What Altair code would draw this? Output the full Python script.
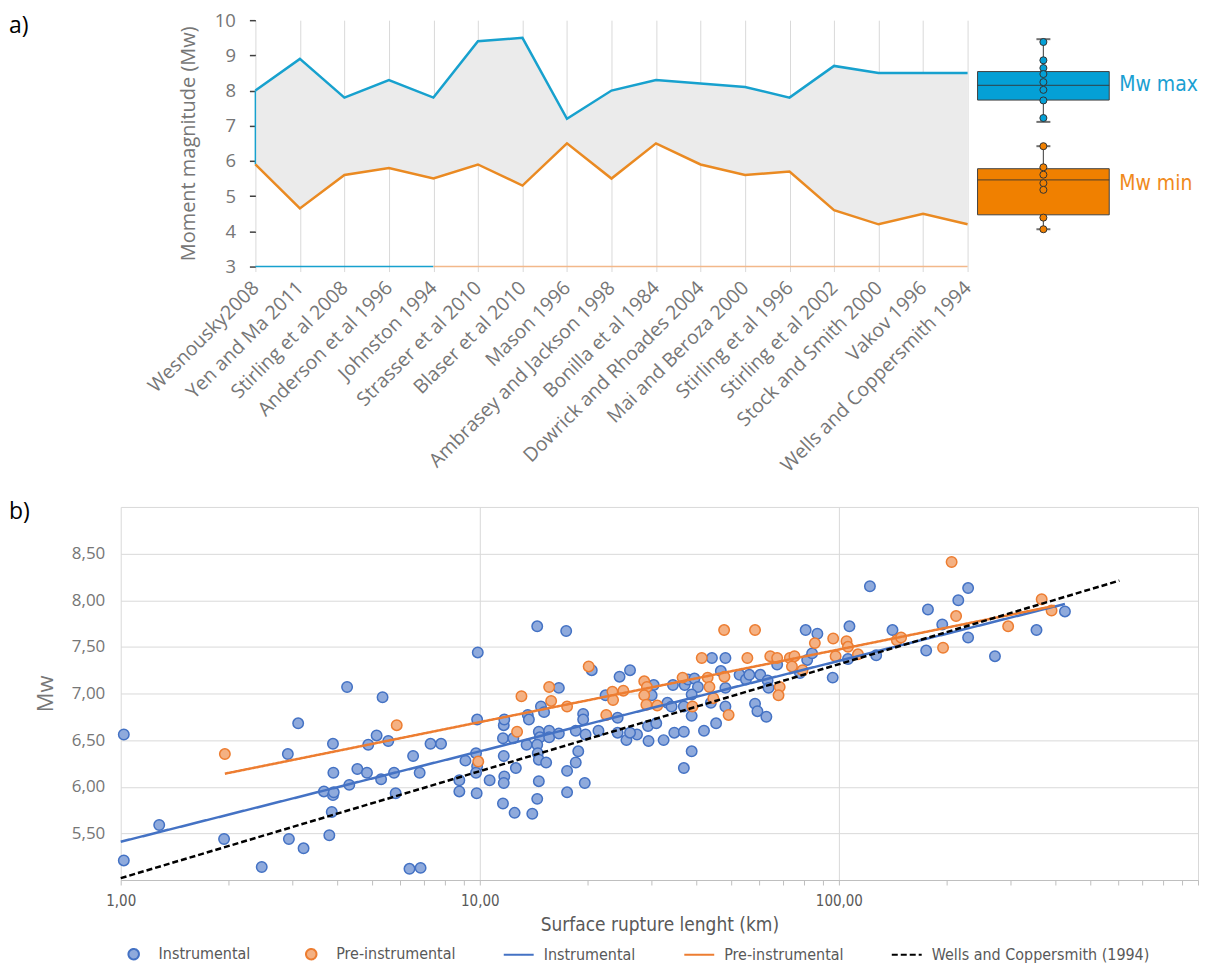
import altair as alt
import pandas as pd

# ---------------- panel a) data ----------------
studies = ["Wesnousky2008", "Yen and Ma 2011", "Stirling et al 2008", "Anderson et al 1996",
           "Johnston 1994", "Strasser et al 2010", "Blaser et al 2010", "Mason 1996",
           "Ambrasey and Jackson 1998", "Bonilla et al 1984", "Dowrick and Rhoades 2004",
           "Mai and Beroza 2000", "Stirling et al 1996", "Stirling et al 2002",
           "Stock and Smith 2000", "Vakov 1996", "Wells and Coppersmith 1994"]
mw_max = [8.0, 8.9, 7.8, 8.3, 7.8, 9.4, 9.5, 7.2, 8.0, 8.3, 8.2, 8.1, 7.8, 8.7, 8.5, 8.5, 8.5]
mw_min = [5.9, 4.65, 5.6, 5.8, 5.5, 5.9, 5.3, 6.5, 5.5, 6.5, 5.9, 5.6, 5.7, 4.6, 4.2, 4.5, 4.2]

# baseline segments drawn at Mw = 3
base_study = ["Wesnousky2008", "Johnston 1994", "Johnston 1994", "Wells and Coppersmith 1994"]
base_mw = [3, 3, 3, 3]
base_seg = ["max", "max", "min", "min"]

# box plot summaries
box_names = ["Mw max", "Mw min"]
box_q1 = [7.73, 4.47]
box_median = [8.15, 5.46]
box_q3 = [8.54, 5.78]
box_low = [7.11, 4.06]
box_high = [9.46, 6.42]
box_pts_max = [9.38, 8.86, 8.64, 8.47, 8.24, 8.02, 7.72, 7.22]
box_pts_min = [6.42, 5.82, 5.61, 5.37, 5.18, 4.39, 4.06]

# ---------------- panel b) data ----------------
inst_L = [1.02, 1.02, 1.28, 1.94, 2.47, 2.94, 2.92, 3.12, 3.23, 3.68, 3.9, 3.9, 3.92, 3.91, 3.87, 3.81,
          4.27, 4.33, 4.56, 4.85, 4.89, 5.16, 5.36, 5.31, 5.56, 5.77, 5.83, 6.37, 6.84, 6.52, 6.8, 7.29,
          7.8, 8.77, 8.77, 9.12, 9.87, 9.83, 9.76, 9.83, 9.76, 9.8, 10.65,
          11.66, 11.7, 11.6, 11.66, 11.7, 11.66, 11.6, 12.5, 12.6, 12.4, 13.6, 13.7, 13.5, 14.0, 14.45,
          14.8, 15.1, 14.6, 15.6, 14.7, 15.6, 14.45, 14.5, 14.6, 15.3, 14.6, 14.45, 16.6, 16.6, 17.4,
          17.5, 17.5, 18.5, 18.5, 18.8, 19.4, 19.4, 19.7, 19.6,
          20.5, 21.4, 22.4, 24.5, 26.2, 24.2, 24.2, 25.6, 27.4, 26.2, 29.4, 29.5, 30.5, 30.1, 31.0,
          32.5, 33.3, 34.5, 34.8, 34.2, 37.2, 38.0, 39.6, 40.5, 38.9, 37.0, 38.9, 38.9, 37.0, 42.1,
          44.0, 44.3, 45.5, 46.9, 48.3, 48.3, 48.3, 52.9, 55.1, 56.3, 58.4, 59.3, 60.4, 62.8, 63.3,
          63.7, 67.3, 77.9, 81.6, 84.2, 37.0,
          80.8, 87.1, 96.1, 107, 106, 122, 127, 141, 175, 177, 194, 215, 229, 229, 272, 355, 426]
inst_Mw = [6.56, 5.21, 5.59, 5.44, 5.14, 5.44, 6.35, 6.68, 5.34, 5.95, 6.46, 5.91, 5.94, 6.15, 5.73, 5.48,
           7.07, 6.02, 6.19, 6.15, 6.45, 6.55, 6.96, 6.08, 6.49, 6.15, 5.93, 5.12, 5.13, 6.33, 6.15, 6.46,
           6.46, 6.07, 5.95, 6.28, 7.44, 6.72, 6.36, 6.22, 6.15, 5.93, 6.07,
           6.66, 6.72, 6.52, 6.33, 6.11, 6.04, 5.82, 5.72, 6.2, 6.52, 6.77, 6.72, 6.45, 5.71, 7.72,
           6.86, 6.8, 6.59, 6.6, 6.53, 6.53, 6.45, 6.36, 6.29, 6.26, 6.06, 5.87, 7.06, 6.57, 7.67,
           6.17, 5.94, 6.6, 6.26, 6.38, 6.78, 6.72, 6.56, 6.04,
           7.25, 6.6, 6.98, 7.18, 7.25, 6.74, 6.58, 6.5, 6.56, 6.58, 6.65, 6.49, 7.09, 6.98, 6.68,
           6.5, 6.9, 7.09, 6.58, 6.86, 7.09, 7.15, 7.16, 7.07, 6.99, 6.59, 6.76, 6.38, 6.86, 6.6,
           6.9, 7.38, 6.68, 7.24, 7.38, 7.06, 6.86, 7.2, 7.15, 7.2, 6.89, 6.81, 7.2, 6.75, 7.14,
           7.06, 7.31, 7.22, 7.36, 7.43, 6.2,
           7.68, 7.64, 7.17, 7.72, 7.37, 8.15, 7.41, 7.68, 7.46, 7.9, 7.74, 8.0, 8.13, 7.6, 7.4, 7.68, 7.88]
pre_L = [1.95, 5.87, 9.9, 13.06, 12.7, 15.6, 15.8, 17.5, 20.1, 23.4, 23.5, 25.1, 22.5, 28.7, 29.2, 28.7,
         29.1, 31.2, 36.7, 41.5, 43.1, 43.6, 44.7, 39.1, 49.3, 48.0, 47.9, 55.6, 58.4, 64.4, 67.3, 68.4,
         67.9, 73.0, 75.2, 74.0, 79.2, 85.7, 96.4, 97.9, 105, 106, 113, 145, 149, 195, 206, 212, 296,
         367, 391]
pre_Mw = [6.35, 6.66, 6.27, 6.97, 6.59, 7.07, 6.92, 6.86, 7.29, 7.02, 6.93, 7.03, 6.77, 7.13, 7.07, 6.98,
          6.88, 6.87, 7.17, 7.38, 7.17, 7.07, 6.95, 6.86, 6.77, 7.18, 7.68, 7.38, 7.68, 7.4, 7.38, 7.07,
          6.98, 7.38, 7.4, 7.29, 7.25, 7.54, 7.59, 7.4, 7.56, 7.5, 7.42, 7.57, 7.6, 7.49, 8.41, 7.83, 7.72,
          8.01, 7.89]

fit_series = ["Instrumental fit", "Instrumental fit", "Pre-instrumental fit", "Pre-instrumental fit",
              "Wells and Coppersmith (1994)", "Wells and Coppersmith (1994)"]
fit_L = [1, 426, 1.95, 399, 1, 604]
fit_Mw = [5.41, 7.96, 6.14, 7.94, 5.02, 8.21]

legend_domain = ["Instrumental", "Pre-instrumental", "Instrumental fit", "Pre-instrumental fit",
                 "Wells and Coppersmith (1994)"]

# ---------------- styles ----------------
FONT_A = "Open Sans"
FONT_N = "Liberation Sans Narrow, DejaVu Sans Condensed, sans-serif"
GRAY_A = "#767676"
GRAY_B = "#595959"
CYAN = "#17A1CE"
ORANGE = "#EA8A22"

# ---------------- panel a) ----------------
top_df = pd.DataFrame({"study": studies, "mw_max": mw_max, "mw_min": mw_min})
base_df = pd.DataFrame({"study": base_study, "mw": base_mw, "seg": base_seg})

xenc = alt.X("study:N", sort=studies, scale=alt.Scale(type="point", padding=0),
             axis=alt.Axis(title=None, labelAngle=-45, labelAlign="right", labelBaseline="middle",
                           labelFont=FONT_A, labelFontSize=19.5, labelColor=GRAY_A,
                           grid=True, gridColor="#d9d9d9", gridWidth=1, domain=False,
                           ticks=True, tickColor="#d9d9d9", tickSize=5, labelPadding=13,
                           labelLimit=400, labelOverlap=False))
yscale = alt.Scale(domain=[3, 10], nice=False, zero=False)
yaxis = alt.Axis(title="Moment magnitude (Mw)", values=[3, 4, 5, 6, 7, 8, 9, 10], tickCount=8,
                 grid=False, domain=False,
                 ticks=True, tickColor="#404040", tickSize=6, tickWidth=1.5, labelOverlap=False,
                 labelFont=FONT_A, labelFontSize=18.5, labelColor=GRAY_A, labelPadding=14,
                 titleFont=FONT_A, titleFontSize=20, titleFontWeight="normal",
                 titleColor=GRAY_A, titlePadding=16)


def yenc(field):
    return alt.Y(field, scale=yscale, axis=yaxis, title="Moment magnitude (Mw)")


area = alt.Chart(top_df).mark_area(color="#EBEBEB", opacity=1).encode(
    x=xenc, y=yenc("mw_min:Q"), y2="mw_max:Q")
edge = alt.Chart(top_df).transform_filter(alt.datum.study == studies[0]).mark_rule(
    color=CYAN, strokeWidth=1.5).encode(x=xenc, y=yenc("mw_min:Q"), y2="mw_max:Q")
line_max = alt.Chart(top_df).mark_line(color=CYAN, strokeWidth=2.5).encode(x=xenc, y=yenc("mw_max:Q"))
line_min = alt.Chart(top_df).mark_line(color=ORANGE, strokeWidth=2.5).encode(x=xenc, y=yenc("mw_min:Q"))
base_max = alt.Chart(base_df).transform_filter(alt.datum.seg == "max").mark_line(
    strokeWidth=1.5, color=CYAN).encode(x=xenc, y=yenc("mw:Q"))
base_min = alt.Chart(base_df).transform_filter(alt.datum.seg == "min").mark_line(
    strokeWidth=1.5, color="#F2B88A").encode(x=xenc, y=yenc("mw:Q"))

lines_chart = alt.layer(area, edge, line_max, line_min, base_max, base_min).properties(width=714, height=247)

spacer = alt.Chart(pd.DataFrame({"t": ["a)"]})).mark_text(
    align="left", baseline="middle", fontSize=23, font=FONT_A, color="black").encode(
    x=alt.value(-112), y=alt.value(6), text="t:N").properties(width=125, height=247)

box_df = pd.DataFrame({"name": box_names, "q1": box_q1, "median": box_median, "q3": box_q3,
                       "low": box_low, "high": box_high, "col": ["box", "box"]})
bpts_df = pd.DataFrame({"name": ["Mw max"] * len(box_pts_max) + ["Mw min"] * len(box_pts_min),
                        "value": box_pts_max + box_pts_min,
                        "col": ["box"] * (len(box_pts_max) + len(box_pts_min))})
bx = alt.X("col:N", scale=alt.Scale(type="band", paddingInner=0, paddingOuter=0), axis=None)
bys = alt.Scale(domain=[3, 10], nice=False, zero=False)


def box_layers(name, fill, text_color, text_dy):
    sel = alt.datum.name == name
    whisk = alt.Chart(box_df).transform_filter(sel).mark_rule(color="#5a5a5a", strokeWidth=1.2).encode(
        x=bx, y=alt.Y("low:Q", scale=bys, axis=None), y2="high:Q")
    cap_hi = alt.Chart(box_df).transform_filter(sel).mark_tick(color="#333333", thickness=2, size=14).encode(
        x=bx, y=alt.Y("high:Q", scale=bys, axis=None))
    cap_lo = alt.Chart(box_df).transform_filter(sel).mark_tick(color="#333333", thickness=2, size=14).encode(
        x=bx, y=alt.Y("low:Q", scale=bys, axis=None))
    boxes = alt.Chart(box_df).transform_filter(sel).mark_bar(
        stroke="#404040", strokeWidth=1, opacity=1, fill=fill).encode(
        x=bx, y=alt.Y("q1:Q", scale=bys, axis=None), y2="q3:Q")
    med = alt.Chart(box_df).transform_filter(sel).mark_tick(color="#333333", thickness=1.3, size=132).encode(
        x=bx, y=alt.Y("median:Q", scale=bys, axis=None))
    pts = alt.Chart(bpts_df).transform_filter(sel).mark_point(
        filled=True, size=50, fill=fill, stroke="#333333", strokeWidth=1, opacity=1).encode(
        x=bx, y=alt.Y("value:Q", scale=bys, axis=None))
    txt = alt.Chart(box_df).transform_filter(sel).mark_text(
        align="left", baseline="middle", dx=76, dy=text_dy, fontSize=21, font=FONT_N,
        color=text_color).encode(
        x=bx, y=alt.Y("median:Q", scale=bys, axis=None), text="name:N")
    return [whisk, cap_hi, cap_lo, boxes, med, pts, txt]


box_chart = alt.layer(*(box_layers("Mw max", "#04A0D6", "#1AA0D2", 0) +
                        box_layers("Mw min", "#F08000", "#F08A1C", 4))).properties(width=132, height=247)

top_row = alt.hconcat(spacer, lines_chart, box_chart, spacing=10, bounds="flush")

# ---------------- panel b) ----------------
pts_df = pd.DataFrame({"L": inst_L + pre_L, "Mw": inst_Mw + pre_Mw,
                       "series": ["Instrumental"] * len(inst_L) + ["Pre-instrumental"] * len(pre_L)})
fit_df = pd.DataFrame({"L": fit_L, "Mw": fit_Mw, "series": fit_series})

circle_path = "M0.35,0A0.35,0.35 0 1,1 -0.35,0A0.35,0.35 0 1,1 0.35,0Z"
line_path = "M-1,0L1,0"

leg = alt.Legend(title=None, orient="none", legendX=-3, legendY=432, direction="horizontal",
                 labelExpr="replace(datum.label, ' fit', '')", labelFont=FONT_N, labelFontSize=16,
                 labelColor=GRAY_B, labelLimit=400, symbolSize=900, symbolStrokeWidth=2,
                 columnPadding=44, labelOffset=9, padding=0)

fill_enc = alt.Fill("series:N", scale=alt.Scale(domain=legend_domain,
                    range=["#8FAADC", "#F4B183", "transparent", "transparent", "transparent"]), legend=leg)
stroke_enc = alt.Stroke("series:N", scale=alt.Scale(domain=legend_domain,
                        range=["#4472C4", "#ED7D31", "#4472C4", "#ED7D31", "#000000"]), legend=leg)
shape_enc = alt.Shape("series:N", scale=alt.Scale(domain=legend_domain,
                      range=[circle_path, circle_path, line_path, line_path, line_path]), legend=leg)
dash_enc = alt.StrokeDash("series:N", scale=alt.Scale(domain=legend_domain,
                          range=[[1, 0], [1, 0], [1, 0], [1, 0], [6, 3]]), legend=leg)

tick_vals = [1, 2, 3, 4, 5, 6, 7, 8, 9, 10, 20, 30, 40, 50, 60, 70, 80, 90,
             100, 200, 300, 400, 500, 600, 700, 800, 900, 1000]
major = "(datum.value == 1 || datum.value == 10 || datum.value == 100)"
bx_enc = alt.X("L:Q", scale=alt.Scale(type="log", domain=[1, 1000], nice=False),
               axis=alt.Axis(title="Surface rupture lenght (km)", values=tick_vals,
                             labelExpr=major + " ? replace(format(datum.value, '.2f'), '.', ',') : ''",
                             labelOverlap=False, labelFlush=False,
                             grid=True, gridColor="#d9d9d9",
                             gridOpacity={"condition": {"test": "datum.value == 10 || datum.value == 100",
                                                        "value": 1}, "value": 0},
                             domain=True, domainColor="#bfbfbf", ticks=True, tickColor="#bfbfbf",
                             tickSize=5, labelFont=FONT_N, labelFontSize=15, labelColor=GRAY_B,
                             labelPadding=9, titleFont=FONT_N, titleFontSize=19,
                             titleFontWeight="normal", titleColor=GRAY_B, titlePadding=7))
by_enc = alt.Y("Mw:Q", scale=alt.Scale(domain=[5, 9], nice=False, zero=False),
               axis=alt.Axis(title="Mw", values=[5.5, 6, 6.5, 7, 7.5, 8, 8.5],
                             labelExpr="replace(format(datum.value, '.2f'), '.', ',')",
                             grid=True, gridColor="#d9d9d9", domain=False, ticks=False,
                             labelFont=FONT_A, labelFontSize=17, labelColor=GRAY_A, labelPadding=16,
                             titleFont=FONT_A, titleFontSize=22, titleFontWeight="normal",
                             titleColor=GRAY_A, titlePadding=14))

scatter = alt.Chart(pts_df).mark_point(filled=True, size=900, strokeWidth=1.5, opacity=1).encode(
    x=bx_enc, y=by_enc, fill=fill_enc, stroke=stroke_enc, shape=shape_enc)
fits = alt.Chart(fit_df).mark_line(strokeWidth=2.5).encode(
    x="L:Q", y="Mw:Q", stroke=stroke_enc, strokeDash=dash_enc)
label_b = alt.Chart(pd.DataFrame({"t": ["b)"]})).mark_text(
    align="left", baseline="middle", fontSize=23, font=FONT_A, color="black").encode(
    x=alt.value(-112), y=alt.value(5), text="t:N")

bottom = alt.layer(scatter, fits, label_b).properties(
    width=1080, height=374, view=alt.ViewBackground(stroke="#d9d9d9"))

chart = alt.vconcat(top_row, bottom, spacing=24).properties(
    padding={"top": 1, "left": 0, "right": 0, "bottom": 0}).resolve_scale(
    fill="independent", stroke="independent", shape="independent", strokeDash="independent",
    color="independent").resolve_legend(
    fill="independent", stroke="independent", shape="independent", strokeDash="independent",
    color="independent").configure_view(stroke="transparent")

chart.save("out.html", embed_options={"renderer": "svg", "actions": False})
